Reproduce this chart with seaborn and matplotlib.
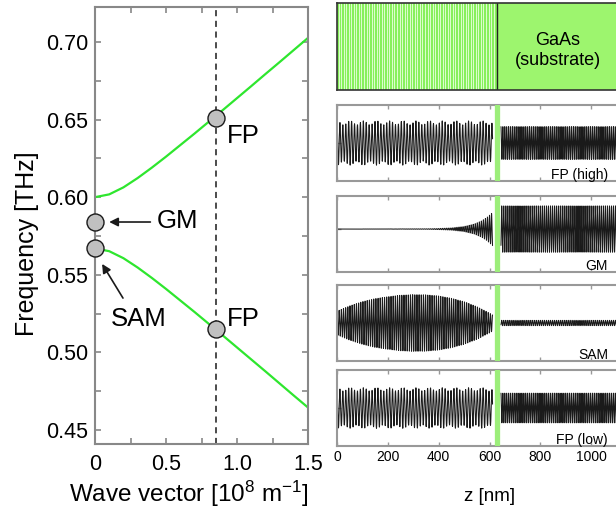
import numpy as np
import matplotlib
matplotlib.use("Agg")
import matplotlib.pyplot as plt
import seaborn as sns

sns.set_theme(style="ticks")
plt.rcParams["font.family"] = ["Liberation Sans", "DejaVu Sans"]
plt.rcParams["mathtext.fontset"] = "custom"
plt.rcParams["mathtext.rm"] = "Liberation Sans"
plt.rcParams["mathtext.it"] = "Liberation Sans:italic"
plt.rcParams["text.color"] = "black"
plt.rcParams["axes.labelcolor"] = "black"
plt.rcParams["xtick.color"] = "black"
plt.rcParams["ytick.color"] = "black"

# dispersion near the zone-centre gap
wave_vector = [0.0, 0.1, 0.2, 0.3, 0.4, 0.5, 0.6, 0.7, 0.8, 0.9, 1.0, 1.1, 1.2, 1.3, 1.4, 1.5]
freq_upper = [0.600, 0.6018, 0.6063, 0.6123, 0.6190, 0.6261, 0.6335, 0.6409,
              0.6485, 0.6561, 0.6638, 0.6715, 0.6793, 0.6870, 0.6948, 0.7026]
freq_lower = [0.567, 0.5652, 0.5607, 0.5547, 0.5480, 0.5409, 0.5335, 0.5261,
              0.5185, 0.5109, 0.5032, 0.4955, 0.4878, 0.4800, 0.4722, 0.4645]

# marked modes (GM, SAM, FP high, FP low)
mode_k = [0.0, 0.0, 0.85, 0.85]
mode_f = [0.584, 0.567, 0.651, 0.515]
k_fp = 0.85

# displacement profiles
panel_names = ["FP (high)", "GM", "SAM", "FP (low)"]
interface_nm = 628
sl_end_nm = 612
sub_start_nm = 645

fp_z = [0, 612]
fp_high_env = [0.53, 0.53]
fp_low_env = [0.49, 0.49]
gm_z = [0, 350, 400, 450, 500, 540, 570, 590, 612]
gm_env = [0.0, 0.006, 0.015, 0.034, 0.077, 0.15, 0.25, 0.35, 0.5]
sam_z = [0, 50, 100, 150, 200, 250, 300, 350, 400, 450, 500, 550, 600, 615]
sam_env = [0.31, 0.45, 0.56, 0.64, 0.69, 0.73, 0.745, 0.74, 0.71, 0.65, 0.56, 0.43, 0.26, 0.2]

sl_envelopes = [(fp_z, fp_high_env), (gm_z, gm_env), (sam_z, sam_env), (fp_z, fp_low_env)]
sl_ripple = [0.1, 0.0, 0.0, 0.09]
substrate_amp = [0.43, 0.70, 0.07, 0.39]
sl_wavelength = [11.5, 8.0, 8.5, 11.5]
sub_wavelength = [7.5, 8.0, 8.0, 7.5]
panel_ylim = [(-1, 1), (-1.3, 1), (-1, 1), (-1, 1)]

sl_period = 10.0
green = "#2ee62e"
grey = "#888888"

fig = plt.figure(figsize=(6.16, 5.09), dpi=100)

# ---- dispersion panel ----
ax = fig.add_axes([95 / 616, 1 - 444 / 509, 213 / 616, 437 / 509])
sns.lineplot(x=wave_vector, y=freq_upper, ax=ax, color=green, lw=1.6)
sns.lineplot(x=wave_vector, y=freq_lower, ax=ax, color=green, lw=1.6)
ax.axvline(k_fp, color="k", ls=(0, (4, 3)), lw=1.1, zorder=2)
sns.scatterplot(x=mode_k, y=mode_f, ax=ax, s=150, color="#c0c0c0",
                edgecolor="k", linewidth=1.0, zorder=5, clip_on=False)

arrow = dict(arrowstyle="-|>", color="k", lw=1.2, mutation_scale=13, shrinkA=0, shrinkB=0)
ax.annotate("", xy=(0.10, 0.584), xytext=(0.39, 0.584), arrowprops=arrow)
ax.annotate("", xy=(0.05, 0.557), xytext=(0.197, 0.535), arrowprops=arrow)
lab = 18.5
ax.text(0.435, 0.5845, "GM", fontsize=lab, va="center", ha="left")
ax.text(0.11, 0.5216, "SAM", fontsize=lab, va="center", ha="left")
ax.text(0.93, 0.6393, "FP", fontsize=lab, va="center", ha="left")
ax.text(0.93, 0.5216, "FP", fontsize=lab, va="center", ha="left")

ax.set_xlim(0, 1.5)
ax.set_ylim(0.441, 0.7225)
ax.set_xticks([0, 0.5, 1.0, 1.5])
ax.set_xticklabels(["0", "0.5", "1.0", "1.5"])
ax.set_xticks([0.25, 0.75, 1.25], minor=True)
yt = [0.45, 0.50, 0.55, 0.60, 0.65, 0.70]
ax.set_yticks(yt)
ax.set_yticklabels([f"{v:.2f}" for v in yt])
ax.set_yticks([0.475, 0.525, 0.575, 0.625, 0.675], minor=True)
ax.tick_params(which="both", direction="in", top=True, right=True,
               length=4.5, width=1.2, color=grey)
ax.tick_params(axis="x", labelsize=15.5, pad=7)
ax.tick_params(axis="y", labelsize=15.5, pad=5)
for sp in ax.spines.values():
    sp.set_color(grey)
    sp.set_linewidth(1.5)
ax.set_xlabel("Wave vector [10$^8$ m$^{-1}$]", fontsize=17.5)
ax.set_ylabel("Frequency [THz]", fontsize=18)
ax.xaxis.set_label_coords(0.44, -0.079)
ax.yaxis.set_label_coords(-0.262, 0.458)

# ---- structure panel ----
x0 = 337 / 616
w = 305 / 616
st = fig.add_axes([x0, 1 - 90 / 509, w, 87 / 509])
st.set_xlim(0, 1200)
st.set_ylim(0, 1)
st.axvspan(interface_nm, 1200, color="#9df56e", lw=0)
st.axvspan(0, interface_nm, color="#88f05c", lw=0)
n_periods = int(interface_nm // sl_period)
for i in range(n_periods):
    st.axvspan(i * sl_period + 0.62 * sl_period, (i + 1) * sl_period,
               color="#dcfdcc", lw=0)
st.axvline(interface_nm, color="#222222", lw=1.0)
st.text(869, 0.45, "GaAs\n(substrate)", fontsize=13, ha="center", va="center",
        linespacing=1.25)
st.set_xticks([])
st.set_yticks([])
for sp in st.spines.values():
    sp.set_color("#333333")
    sp.set_linewidth(1.2)

# ---- displacement panels ----
tops = [105, 196, 285, 370]
for i, name in enumerate(panel_names):
    top = tops[i]
    pa = fig.add_axes([x0, 1 - (top + 76) / 509, w, 76 / 509])
    ez, ev = sl_envelopes[i]
    z_sl = np.linspace(0, sl_end_nm, 3000)
    env = np.interp(z_sl, ez, ev) * (1 + sl_ripple[i] * np.cos(2 * np.pi * z_sl / 52.0))
    u_sl = env * np.cos(2 * np.pi * z_sl / sl_wavelength[i])
    z_sub = np.linspace(sub_start_nm, 1200, 3000)
    u_sub = substrate_amp[i] * np.cos(2 * np.pi * z_sub / sub_wavelength[i])
    pa.plot(z_sl, u_sl, color="k", lw=0.75)
    pa.plot(z_sub, u_sub, color="k", lw=0.75)
    pa.axvline(interface_nm, color="#9cee7a", lw=3.8, zorder=3)
    pa.set_xlim(0, 1200)
    pa.set_ylim(*panel_ylim[i])
    pa.set_xticks([0, 200, 400, 600, 800, 1000])
    pa.set_yticks([0])
    pa.set_yticklabels([])
    pa.tick_params(which="both", direction="in", top=True, right=True,
                   length=3, width=1.0, color="#999999")
    for sp in pa.spines.values():
        sp.set_color("#999999")
        sp.set_linewidth(1.5)
    pa.text(1066, 0.025, name, transform=pa.get_xaxis_transform(),
            ha="right", va="baseline", fontsize=10)
    if i < len(panel_names) - 1:
        pa.set_xticklabels([])
    else:
        pa.tick_params(axis="x", labelsize=10, pad=3)
        pa.set_xlabel("z [nm]", fontsize=13.5, labelpad=17)

fig.savefig("out.png", dpi=100)
